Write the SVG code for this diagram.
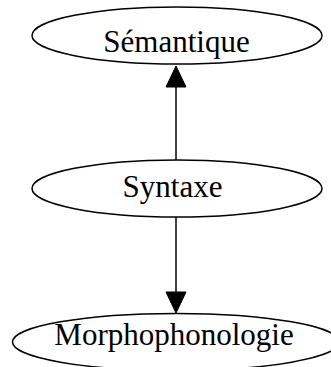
<svg xmlns="http://www.w3.org/2000/svg" width="331" height="367" viewBox="0 0 331 367">
<defs>
<style>
.node ellipse{fill:none;stroke:#000;stroke-width:1.5}
.node text{font-family:"Liberation Serif","Times New Roman",serif;font-size:31px;fill:#000;text-anchor:middle}
.edge line{stroke:#000;stroke-width:1.5}
.edge polygon{fill:#000;stroke:#000;stroke-width:1}
</style>
</defs>
<rect width="331" height="367" fill="#fff"/>
<g id="edges" class="edge">
<line x1="176" y1="160" x2="176" y2="87"/>
<polygon points="176,66 166,87 186,87"/>
<line x1="176" y1="217" x2="176" y2="292"/>
<polygon points="176,313 166,292 186,292"/>
</g>
<g id="semantique" class="node">
<ellipse cx="177" cy="35.5" rx="145" ry="28.5"/>
<text x="176.5" y="51.5">Sémantique</text>
</g>
<g id="syntaxe" class="node">
<ellipse cx="177" cy="188.5" rx="145" ry="28.5"/>
<text x="172.5" y="196.5">Syntaxe</text>
</g>
<g id="morphophonologie" class="node">
<ellipse cx="176" cy="342" rx="163.5" ry="28.5"/>
<text x="174" y="345">Morphophonologie</text>
</g>
</svg>
